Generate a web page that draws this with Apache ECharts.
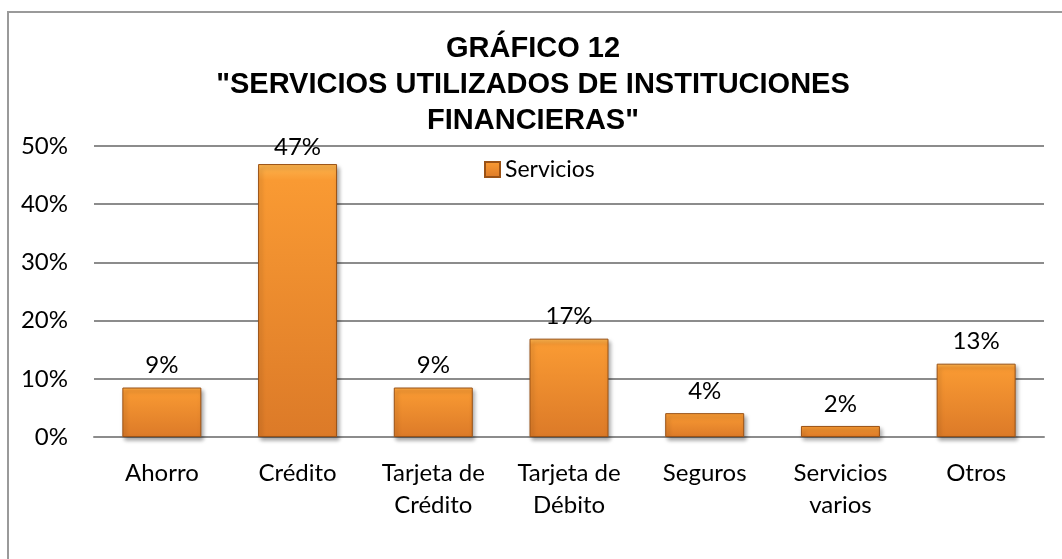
<!DOCTYPE html>
<html>
<head>
<meta charset="utf-8">
<title>Gráfico 12</title>
<script src="https://cdn.jsdelivr.net/npm/echarts@6/dist/echarts.min.js"></script>
<style>
    html, body { margin: 0; padding: 0; background: #fff; }
    #chart { width: 1062px; height: 559px; position: relative; }
    #frame { position: absolute; left: 7px; top: 11px; right: 0; bottom: 0;
             border-left: 2px solid #9a9a9a; border-top: 2px solid #9a9a9a; pointer-events: none; }
</style>
</head>
<body>
<div id="chart"></div>
<div id="frame"></div>
<script>
var categorias = ['Ahorro', 'Crédito', 'Tarjeta de\nCrédito', 'Tarjeta de\nDébito', 'Seguros', 'Servicios\nvarios', 'Otros'];
var servicios = [8.5, 46.9, 8.5, 16.9, 4.1, 1.9, 12.6];
var ticksY = [0, 10, 20, 30, 40, 50];

var fuente = 'Lato';

var option = {
    animation: false,
    title: {
        text: 'GRÁFICO 12\n"SERVICIOS UTILIZADOS DE INSTITUCIONES\nFINANCIERAS"',
        left: 528,
        top: 26,
        textAlign: 'center',
        textStyle: {
            fontFamily: 'Liberation Sans',
            fontWeight: 'bold',
            fontSize: 29,
            lineHeight: 36,
            color: '#000'
        }
    },
    legend: {
        left: 479,
        top: 153,
        itemWidth: 15,
        itemHeight: 15,
        itemGap: 8,
        icon: 'rect',
        textStyle: { fontFamily: fuente, fontSize: 23, color: '#000' },
        data: ['Servicios']
    },
    grid: {
        left: 94,
        right: 18,
        top: 146,
        bottom: 122
    },
    xAxis: {
        type: 'category',
        data: categorias,
        axisTick: { show: false },
        axisLine: { lineStyle: { color: '#8c8c8c', width: 2 } },
        axisLabel: {
            interval: 0,
            margin: 20,
            fontFamily: fuente,
            fontSize: 24,
            lineHeight: 32,
            color: '#000'
        }
    },
    yAxis: {
        type: 'value',
        min: ticksY[0],
        max: ticksY[ticksY.length - 1],
        interval: 10,
        axisLine: { show: false },
        axisTick: { show: false },
        splitLine: { lineStyle: { color: '#8c8c8c', width: 2 } },
        axisLabel: {
            margin: 26,
            fontFamily: fuente,
            fontSize: 24,
            color: '#000',
            formatter: '{value}%'
        }
    },
    series: [
        {
            name: 'Servicios',
            type: 'bar',
            data: servicios,
            barWidth: 79,
            itemStyle: {
                color: new echarts.graphic.LinearGradient(0, 0, 0, 1, [
                    { offset: 0, color: '#fdb54f' },
                    { offset: 0.06, color: '#f99a33' },
                    { offset: 1, color: '#dc7a28' }
                ]),
                borderColor: '#9a5216',
                borderWidth: 1,
                shadowColor: 'rgba(0,0,0,0.35)',
                shadowBlur: 4,
                shadowOffsetX: 2,
                shadowOffsetY: 3
            },
            label: {
                show: true,
                position: 'top',
                distance: 10,
                fontFamily: fuente,
                fontSize: 24,
                color: '#000',
                formatter: function (p) {
                    return Math.round(p.value) + '%';
                }
            },
            // Excel pushes the tallest label down so it stays inside the plot
            labelLayout: function (p) {
                if (p.labelRect.y < 134) {
                    return { x: p.labelRect.x, y: 135 };
                }
            }
        }
    ]
};

var chart = echarts.init(document.getElementById('chart'));
chart.setOption(option);
</script>
</body>
</html>
